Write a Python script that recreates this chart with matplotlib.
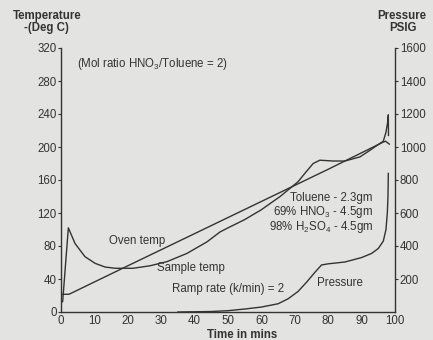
import matplotlib
matplotlib.use('Agg')
import matplotlib.pyplot as plt

plt.rcParams['font.family'] = ['Liberation Sans', 'DejaVu Sans']
plt.rcParams['mathtext.fontset'] = 'custom'
plt.rcParams['mathtext.rm'] = 'Liberation Sans'
plt.rcParams['mathtext.it'] = 'Liberation Sans'

# ── data ────────────────────────────────────
oven_t = [0.0, 0.1, 2.4, 20, 40, 60, 80, 90, 95, 96.5, 97.2, 97.8, 98.3]
oven_T = [12, 21.5, 21.5, 56, 95, 134, 173, 193, 203, 206, 207, 205, 203.5]

sample_t = [0.0, 0.5, 2.2, 4.2, 7.2, 10.2, 13.2, 16.2, 18.6, 21.6, 26.6, 31.7,
            37.7, 43.7, 47.6, 50, 55, 60, 65.6, 68, 71, 73, 75.5, 77.5, 81.5,
            85, 89.5, 92.5, 95, 96.5, 97.3, 97.8, 98.0, 98.05]
sample_T = [12, 12.5, 102, 83, 67, 59, 54.5, 53, 53, 53, 56, 61,
            71, 85, 97, 102, 112, 124, 140, 148, 158, 168, 180, 184, 183,
            183, 188, 196, 203, 207, 218, 230, 239, 214]

press_t = [35, 45, 50, 55, 60, 65, 68, 71, 73.5, 76, 78, 80, 85, 90, 93,
           95, 96.5, 97.3, 97.7, 97.9, 98.0]
press_P = [0, 3, 8, 18, 30, 50, 80, 125, 180, 240, 285, 292, 303, 330, 355,
           385, 430, 500, 600, 700, 840]

temp_ticks = [0, 40, 80, 120, 160, 200, 240, 280, 320]
press_ticks = [200, 400, 600, 800, 1000, 1200, 1400, 1600]
time_ticks = [0, 10, 20, 30, 40, 50, 60, 70, 80, 90, 100]

paper = '#e3e3e1'
ink = '#333333'
fs = 8.3

fig = plt.figure(figsize=(4.33, 3.40), dpi=100, facecolor=paper)
ax = fig.add_axes([61/433, 28/340, 334/433, 264/340])
ax.set_facecolor(paper)
ax2 = ax.twinx()

ax.plot(oven_t, oven_T, color=ink, lw=1.0)
ax.plot(sample_t, sample_T, color=ink, lw=1.0)
ax2.plot(press_t, press_P, color=ink, lw=1.0)

ax.set_xlim(0, 100)
ax.set_ylim(0, 320)
ax2.set_ylim(0, 1600)

for a in (ax, ax2):
    a.spines['top'].set_visible(False)
    for s in a.spines.values():
        s.set_color(ink)
        s.set_linewidth(1.0)
ax.spines['right'].set_visible(False)
ax2.spines['left'].set_visible(False)
ax2.spines['bottom'].set_visible(False)

ax.set_xticks(time_ticks)
ax.set_yticks(temp_ticks)
ax2.set_yticks(press_ticks)
ax.tick_params(axis='x', length=0, pad=2.5, labelsize=fs, colors=ink)
ax.tick_params(axis='y', length=2.5, width=0.8, pad=0.5, labelsize=fs, colors=ink)
ax2.tick_params(axis='y', length=2.5, width=0.8, pad=1, labelsize=fs, colors=ink)

# axis titles
fig.text(47/433, 1 - 16/340, 'Temperature', ha='center', va='center',
         fontsize=fs, fontweight='bold', color=ink)
fig.text(46/433, 1 - 28/340, '-(Deg C)', ha='center', va='center',
         fontsize=fs, fontweight='bold', color=ink)
fig.text(402/433, 1 - 16/340, 'Pressure', ha='center', va='center',
         fontsize=fs, fontweight='bold', color=ink)
fig.text(403/433, 1 - 28/340, 'PSIG', ha='center', va='center',
         fontsize=fs, fontweight='bold', color=ink)
fig.text(242/433, 1 - 335/340, 'Time in mins', ha='center', va='center',
         fontsize=fs, fontweight='bold', color=ink)

# annotations
def note(x, y, s, ha='left'):
    fig.text(x/433, 1 - y/340, s, ha=ha, va='center', fontsize=fs, color=ink)

note(77, 64, '(Mol ratio HNO$_3$/Toluene = 2)')
note(109, 241, 'Oven temp')
note(157, 268, 'Sample temp')
note(172, 289, 'Ramp rate (k/min) = 2')
note(317, 283, 'Pressure')
note(373, 198, 'Toluene - 2.3gm', ha='right')
note(373, 212.5, '69% HNO$_3$ - 4.5gm', ha='right')
note(373, 227, '98% H$_2$SO$_4$ - 4.5gm', ha='right')

plt.savefig('out.png', dpi=100, facecolor=paper)
